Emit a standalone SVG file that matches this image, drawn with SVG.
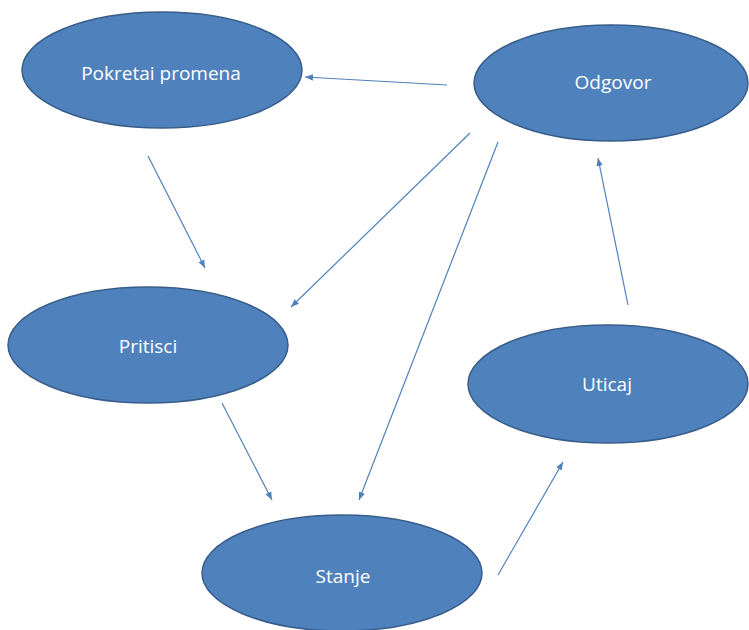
<svg xmlns="http://www.w3.org/2000/svg" width="749" height="630" viewBox="0 0 749 630">
<style>
.n{fill:#4f81bd;stroke:#385d8a;stroke-width:1.5}
.t{fill:#fff;font-family:"Open Sans","Liberation Sans",sans-serif;font-size:19px;text-anchor:middle;dominant-baseline:central}
.c{stroke:#4f81bd;stroke-width:1.2;fill:none;marker-end:url(#ah)}
</style>
<defs>
<marker id="ah" viewBox="0 0 10 10" refX="10" refY="5" markerWidth="8" markerHeight="8" markerUnits="userSpaceOnUse" orient="auto">
<path d="M0,1 L10,5 L0,9 z" fill="#4f81bd"/>
</marker>
</defs>
<rect width="749" height="630" fill="#fff"/>
<g id="connectors">
<line class="c" x1="447" y1="85" x2="305" y2="77"/>
<line class="c" x1="148" y1="156" x2="205" y2="268"/>
<line class="c" x1="470" y1="133" x2="291" y2="307"/>
<line class="c" x1="498" y1="142" x2="359" y2="500"/>
<line class="c" x1="222" y1="403" x2="272" y2="500"/>
<line class="c" x1="498" y1="575" x2="563" y2="462"/>
<line class="c" x1="628" y1="305" x2="598" y2="158"/>
</g>
<g id="pokretai"><ellipse class="n" cx="162" cy="70" rx="140" ry="58"/><text class="t" x="161" y="73">Pokretai promena</text></g>
<g id="odgovor"><ellipse class="n" cx="611" cy="83" rx="137" ry="58"/><text class="t" x="613" y="82">Odgovor</text></g>
<g id="pritisci"><ellipse class="n" cx="148" cy="345" rx="140" ry="58"/><text class="t" x="148" y="346">Pritisci</text></g>
<g id="uticaj"><ellipse class="n" cx="608" cy="384" rx="140" ry="59"/><text class="t" x="607" y="384">Uticaj</text></g>
<g id="stanje"><ellipse class="n" cx="342" cy="573" rx="140" ry="58"/><text class="t" x="343" y="576">Stanje</text></g>
</svg>
